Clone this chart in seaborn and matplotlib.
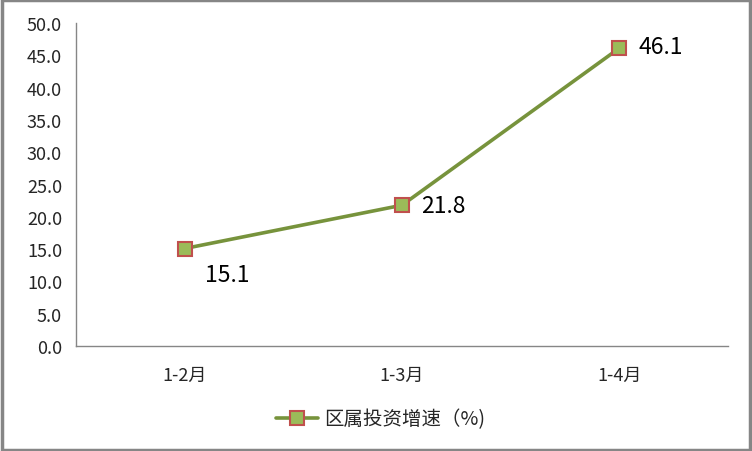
import numpy as np
import pandas as pd
import matplotlib
matplotlib.use("Agg")
import matplotlib.pyplot as plt
import seaborn as sns
from matplotlib.patches import Rectangle

periods = ["1-2月", "1-3月", "1-4月"]
growth = [15.1, 21.8, 46.1]
series_name = "区属投资增速（%)"
yticks = np.arange(0, 50.1, 5)

df = pd.DataFrame({"period": periods, "growth": growth})

sns.set_style("white")
plt.rcParams["font.family"] = ["Noto Sans CJK SC", "DejaVu Sans"]

fig = plt.figure(figsize=(7.52, 4.52), dpi=100)
ax = fig.add_axes([0.101, 0.232, 0.867, 0.715])

sns.lineplot(data=df, x="period", y="growth", ax=ax, color="#77933C", linewidth=2.6,
             marker="s", markersize=10, markerfacecolor="#9BBB59",
             markeredgecolor="#C0504D", markeredgewidth=1.5, label=series_name)

# data labels
offsets = [(15, -19), (14, 0), (14, 1)]
for i, (v, off) in enumerate(zip(growth, offsets)):
    ax.annotate(f"{v:.1f}", (i, v), xytext=off, textcoords="offset points",
                ha="left", va="center", fontsize=16.5, color="black")

ax.set_xlim(-0.5, 2.5)
ax.set_ylim(0, 50)
ax.set_yticks(yticks)
ax.set_yticklabels([f"{t:.1f}" for t in yticks], fontsize=13)
ax.set_xticks([-0.5, 0.5, 1.5, 2.5])
ax.set_xticklabels([])
ax.set_xticks([0, 1, 2], minor=True)
ax.set_xticklabels(periods, minor=True, fontsize=13)
ax.tick_params(axis="x", which="minor", length=0, pad=14)
ax.tick_params(axis="x", which="major", length=6, direction="out", color="#868686", width=1)
ax.tick_params(axis="y", length=6, direction="out", color="#868686", width=1, pad=4)
ax.set_xlabel("")
ax.set_ylabel("")
for s in ["top", "right"]:
    ax.spines[s].set_visible(False)
for s in ["left", "bottom"]:
    ax.spines[s].set_color("#868686")
    ax.spines[s].set_linewidth(1)

leg = ax.legend(loc="center", bbox_to_anchor=(0.467, -0.225), frameon=False,
                fontsize=14, handlelength=2.2, handletextpad=0.3)

fig.patches.append(Rectangle((0.002, 0.003), 0.996, 0.994, transform=fig.transFigure,
                             fill=False, edgecolor="#868686", linewidth=2.5))

fig.savefig("out.png", dpi=100)
